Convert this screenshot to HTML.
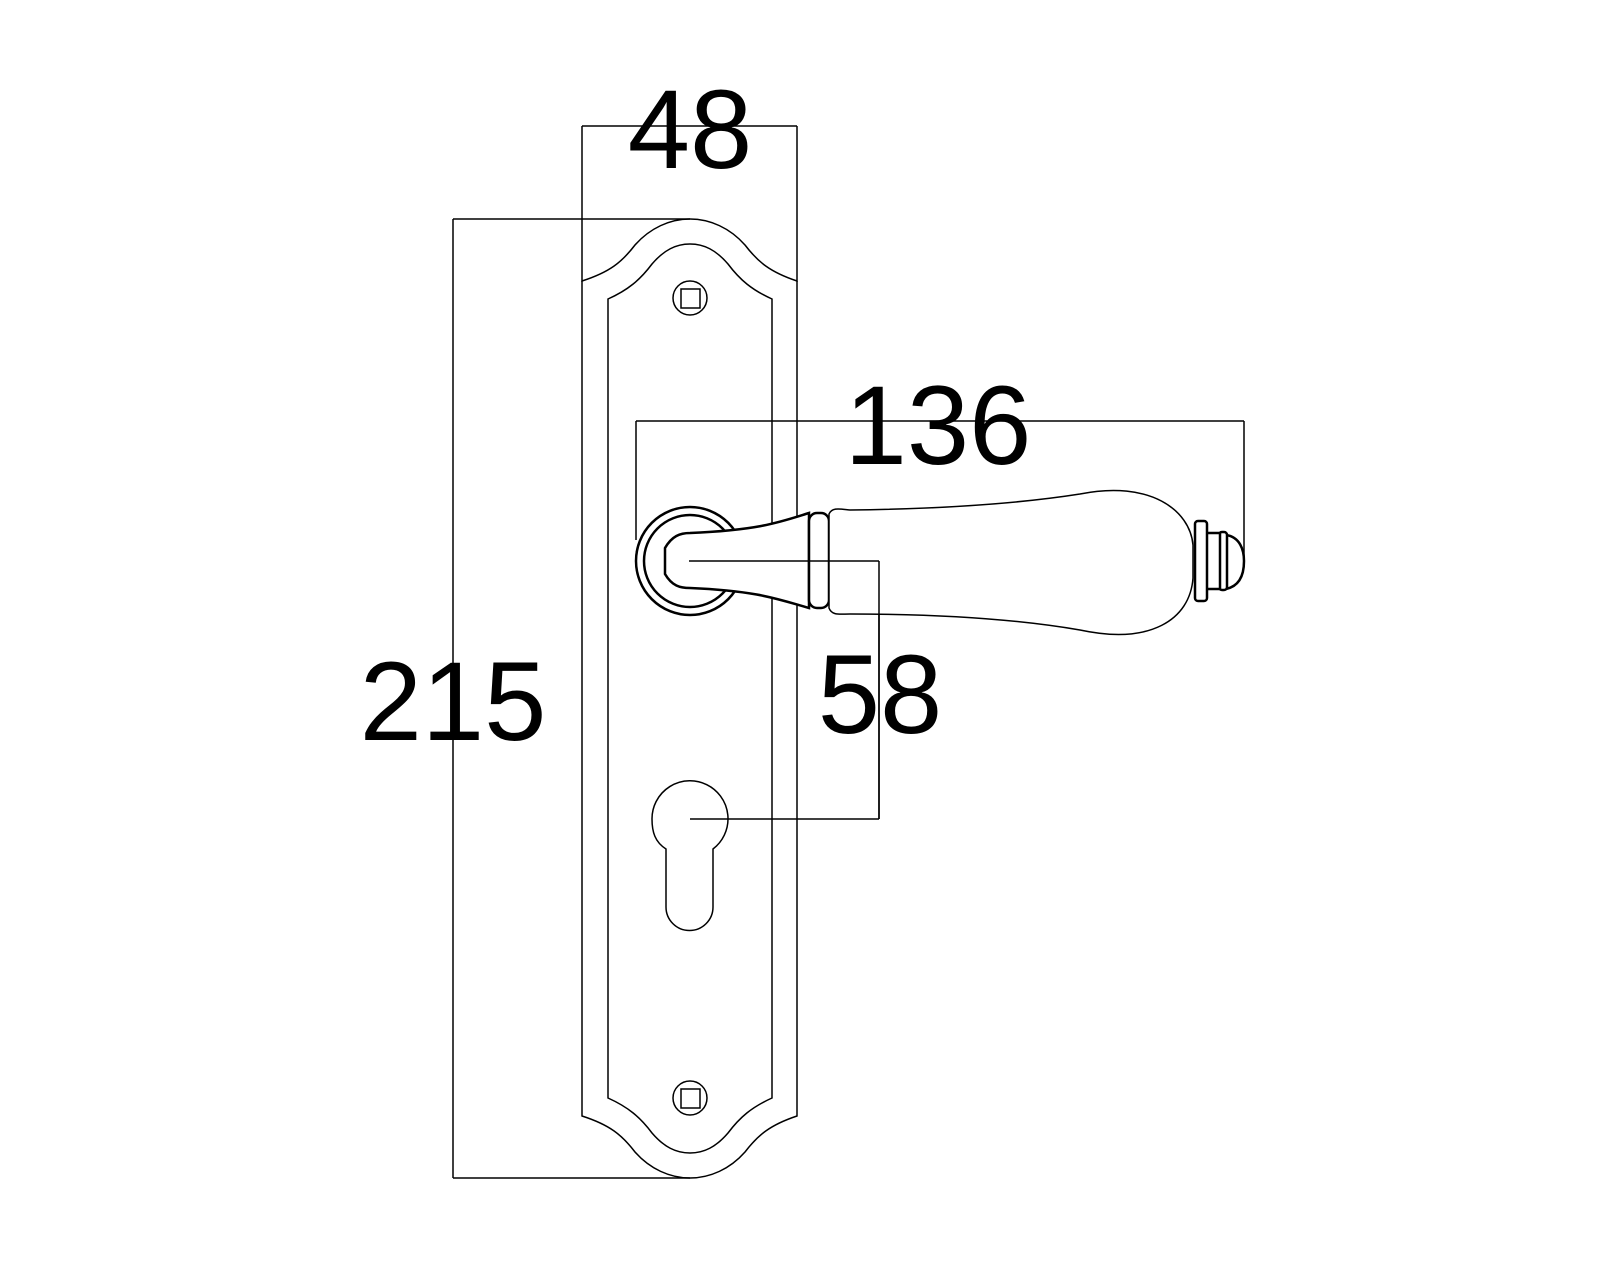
<!DOCTYPE html>
<html><head><meta charset="utf-8"><style>
html,body{margin:0;padding:0;background:#fff;}
svg{display:block}
text{font-family:"Liberation Sans",sans-serif;fill:#000}
</style></head><body>
<svg width="1600" height="1280" viewBox="0 0 1600 1280" xmlns="http://www.w3.org/2000/svg">
<g fill="none" stroke="#000" stroke-width="1.5">
<path d="M582,126 L582,281 C610,272 622,262 635,245 C650,228 670,219 690,219 C710,219 730,228 745,245 C758,262 770,272 797,281 L797,126"/>
<path d="M582,281 L582,1116 C610,1125 622,1135 635,1152 C650,1169 670,1178 690,1178 C710,1178 730,1169 745,1152 C758,1135 770,1125 797,1116 L797,281"/>
<path d="M608,1098 L608,299 C628,290 640,280 652,264 C664,250 676,244 690,244 C704,244 716,250 728,264 C740,280 752,290 772,299 L772,1098 C752,1107 740,1117 728,1133 C716,1147 704,1153 690,1153 C676,1153 664,1147 652,1133 C640,1117 628,1107 608,1098 Z"/>
<circle cx="690" cy="298" r="17"/><rect x="681" y="289" width="19" height="19"/>
<circle cx="690" cy="1098" r="17"/><rect x="681" y="1089" width="19" height="19"/>
<path d="M666,849 C655,842 652,832 652,819 A38,38 0 1 1 713,849 L713,907 A23.5,23.5 0 0 1 666,907 Z"/>
<line x1="582" y1="126" x2="797" y2="126"/>
<line x1="453" y1="219" x2="690" y2="219"/>
<line x1="453" y1="219" x2="453" y2="1178"/>
<line x1="453" y1="1178" x2="690" y2="1178"/>
<line x1="636" y1="421" x2="1244" y2="421"/>
<line x1="636" y1="421" x2="636" y2="540"/>
<line x1="1244" y1="421" x2="1244" y2="560"/>
<line x1="689" y1="561" x2="879" y2="561"/>
<line x1="879" y1="561" x2="879" y2="819"/>
<line x1="690" y1="819" x2="879" y2="819"/>
</g>
<g fill="#fff" stroke="#000" stroke-width="2.5">
<circle cx="690" cy="561" r="54"/>
<circle cx="690" cy="561" r="46"/>
<path d="M809,513 C780,522 760,530 690,533 C680,533 672,536 665,548 L665,574 C672,586 680,588 690,588 C760,591 780,600 809,608 Z"/>
<rect x="809" y="513" width="20" height="95" rx="8"/>
</g>
<g fill="#fff" stroke="#000" stroke-width="1.5">
<path d="M829,514 C832,507 840,509 850,510 C930,509 1010,505 1080,494 C1150,480 1190,510 1193,545 L1193,578 C1190,620 1150,645 1080,630 C1010,618 930,614 850,614 C840,614 832,616 829,608 Z"/>
</g>
<g fill="#fff" stroke="#000" stroke-width="2.5">
<path d="M1226,535 C1240,537 1244,550 1244,561 C1244,574 1240,586 1226,589 Z"/>
<rect x="1219" y="532" width="8" height="58" rx="3"/>
<rect x="1206" y="533" width="14" height="56"/>
<rect x="1195" y="521" width="12" height="80" rx="3"/>
</g>
<g stroke="#000" stroke-width="1.5">
<line x1="689" y1="561" x2="879" y2="561"/>
<line x1="879" y1="561" x2="879" y2="819"/>
</g>
<text x="690" y="168" font-size="112" text-anchor="middle">48</text>
<text x="938" y="464" font-size="112" text-anchor="middle">136</text>
<text x="453" y="740" font-size="112" text-anchor="middle">215</text>
<text x="880" y="733" font-size="112" text-anchor="middle">58</text>
</svg>
</body></html>
